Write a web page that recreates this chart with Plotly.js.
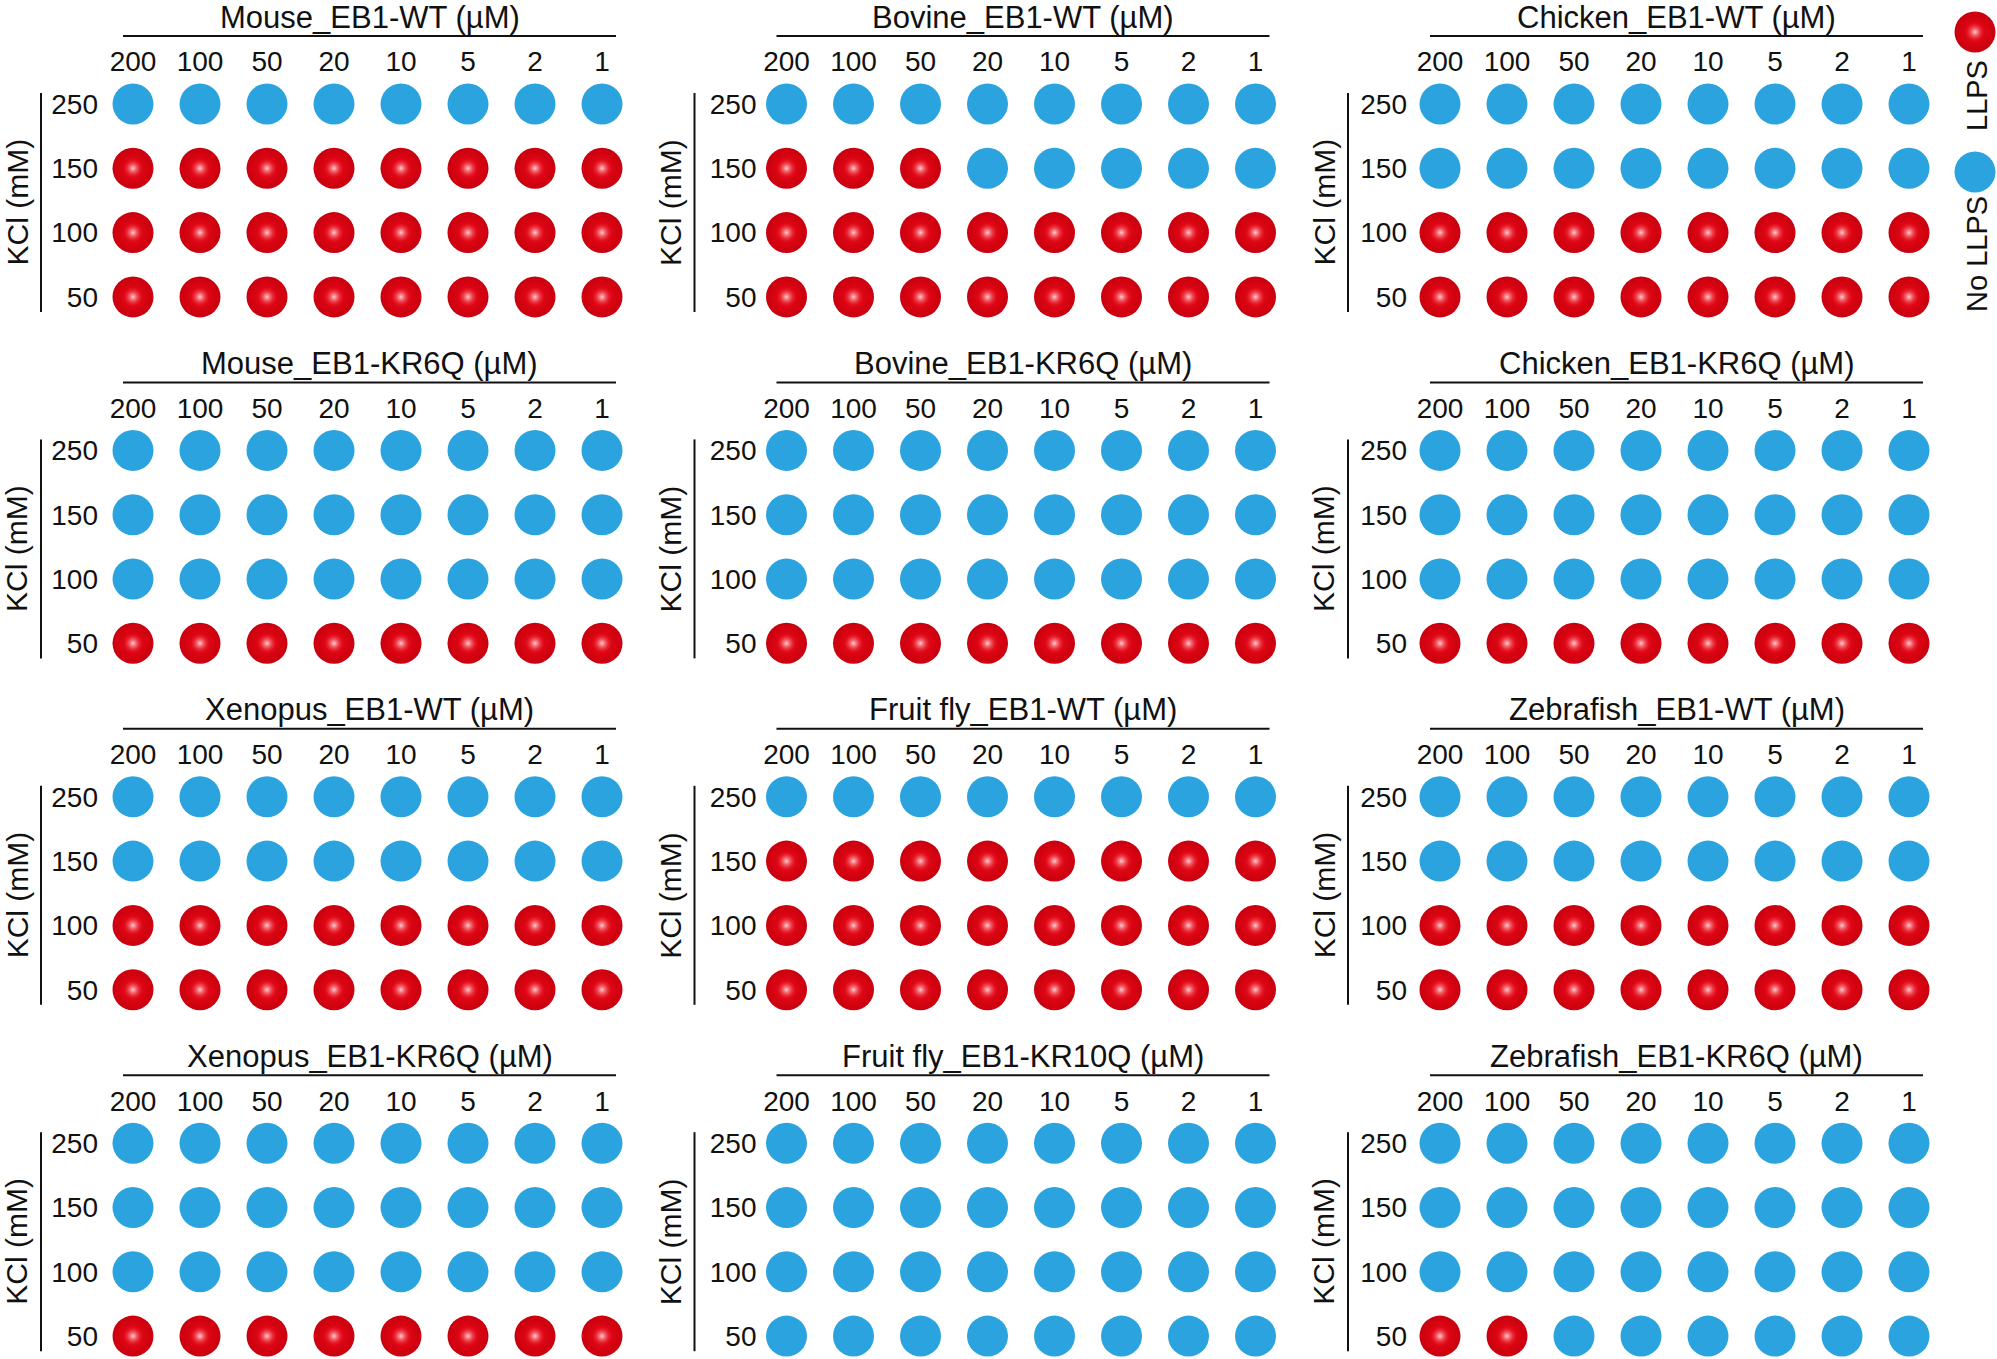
<!DOCTYPE html>
<html><head><meta charset="utf-8">
<script src="https://cdn.plot.ly/plotly-3.0.1.min.js"></script>
<style>html,body{margin:0;padding:0;background:#fff;overflow:hidden}</style>
</head><body><div id="chart" style="width:1997px;height:1359px"></div>
<script>
// ---------------- data ----------------
const concentrations = ['200', '100', '50', '20', '10', '5', '2', '1'];   // µM, left to right
const kclLevels = ['250', '150', '100', '50'];                           // mM, top to bottom
const kclAxisOrder = ['50', '100', '150', '250'];                        // bottom to top

const panelTitles = [
  'Mouse_EB1-WT (µM)', 'Bovine_EB1-WT (µM)', 'Chicken_EB1-WT (µM)',
  'Mouse_EB1-KR6Q (µM)', 'Bovine_EB1-KR6Q (µM)', 'Chicken_EB1-KR6Q (µM)',
  'Xenopus_EB1-WT (µM)', 'Fruit fly_EB1-WT (µM)', 'Zebrafish_EB1-WT (µM)',
  'Xenopus_EB1-KR6Q (µM)', 'Fruit fly_EB1-KR10Q (µM)', 'Zebrafish_EB1-KR6Q (µM)'
];

// 1 = LLPS, 0 = No LLPS ; rows follow kclLevels (250,150,100,50), columns follow concentrations
const mouseWT       = [[0,0,0,0,0,0,0,0],[1,1,1,1,1,1,1,1],[1,1,1,1,1,1,1,1],[1,1,1,1,1,1,1,1]];
const bovineWT      = [[0,0,0,0,0,0,0,0],[1,1,1,0,0,0,0,0],[1,1,1,1,1,1,1,1],[1,1,1,1,1,1,1,1]];
const chickenWT     = [[0,0,0,0,0,0,0,0],[0,0,0,0,0,0,0,0],[1,1,1,1,1,1,1,1],[1,1,1,1,1,1,1,1]];
const mouseKR6Q     = [[0,0,0,0,0,0,0,0],[0,0,0,0,0,0,0,0],[0,0,0,0,0,0,0,0],[1,1,1,1,1,1,1,1]];
const bovineKR6Q    = [[0,0,0,0,0,0,0,0],[0,0,0,0,0,0,0,0],[0,0,0,0,0,0,0,0],[1,1,1,1,1,1,1,1]];
const chickenKR6Q   = [[0,0,0,0,0,0,0,0],[0,0,0,0,0,0,0,0],[0,0,0,0,0,0,0,0],[1,1,1,1,1,1,1,1]];
const xenopusWT     = [[0,0,0,0,0,0,0,0],[0,0,0,0,0,0,0,0],[1,1,1,1,1,1,1,1],[1,1,1,1,1,1,1,1]];
const fruitflyWT    = [[0,0,0,0,0,0,0,0],[1,1,1,1,1,1,1,1],[1,1,1,1,1,1,1,1],[1,1,1,1,1,1,1,1]];
const zebrafishWT   = [[0,0,0,0,0,0,0,0],[0,0,0,0,0,0,0,0],[1,1,1,1,1,1,1,1],[1,1,1,1,1,1,1,1]];
const xenopusKR6Q   = [[0,0,0,0,0,0,0,0],[0,0,0,0,0,0,0,0],[0,0,0,0,0,0,0,0],[1,1,1,1,1,1,1,1]];
const fruitflyKR10Q = [[0,0,0,0,0,0,0,0],[0,0,0,0,0,0,0,0],[0,0,0,0,0,0,0,0],[0,0,0,0,0,0,0,0]];
const zebrafishKR6Q = [[0,0,0,0,0,0,0,0],[0,0,0,0,0,0,0,0],[0,0,0,0,0,0,0,0],[1,1,0,0,0,0,0,0]];

const panelData = [mouseWT, bovineWT, chickenWT, mouseKR6Q, bovineKR6Q, chickenKR6Q,
                   xenopusWT, fruitflyWT, zebrafishWT, xenopusKR6Q, fruitflyKR10Q, zebrafishKR6Q];

const yTitle = 'KCl (mM)';
const legendLabels = ['LLPS', 'No LLPS'];

// ---------------- styling / layout ----------------
const W = 1997, H = 1359;
const FONT = '"Liberation Sans", Arial, Helvetica, sans-serif';
const BLUE = '#2ba3df';
const RED_EDGE = '#c9000e';
const RED_CENTER = '#ee0a18';
const MSIZE = 41;

const colOffset = [0, 653.5, 1307];
const rowOffset = [0, 346.4, 692.8, 1039.2];
const plotLeftByCol = [101, 106, 103];
const P = { right: 625, top: 93, bottom: 312, cx0: 133, dx: 67, cyTop: 104, dy: 64.3,
            lineX0: 123, lineX1: 616, lineY: 36, titleY: 17, vLineX: 41, yTitleX: 17 };

const xp = px => px / W;
const yp = py => 1 - py / H;

const traces = [];
const layout = {
  width: W, height: H, margin: {l: 0, r: 0, t: 0, b: 0},
  paper_bgcolor: '#fff', plot_bgcolor: 'rgba(0,0,0,0)',
  showlegend: false, font: {family: FONT, color: '#111'},
  shapes: [], annotations: []
};

function markerTraces(ax, ay, xs, ys, red) {
  if (!xs.length) return;
  if (!red) {
    traces.push({type: 'scatter', mode: 'markers', x: xs, y: ys, xaxis: ax, yaxis: ay,
      cliponaxis: false, hoverinfo: 'skip',
      marker: {size: MSIZE, color: BLUE, line: {width: 0}}});
  } else {
    traces.push({type: 'scatter', mode: 'markers', x: xs, y: ys, xaxis: ax, yaxis: ay,
      cliponaxis: false, hoverinfo: 'skip',
      marker: {size: MSIZE, color: RED_EDGE, line: {width: 0},
               gradient: {type: 'radial', color: RED_CENTER}}});
    traces.push({type: 'scatter', mode: 'markers', x: xs, y: ys, xaxis: ax, yaxis: ay,
      cliponaxis: false, hoverinfo: 'skip',
      marker: {size: 21, color: 'rgba(236,10,24,0)', line: {width: 0},
               gradient: {type: 'radial', color: 'rgba(255,235,235,0.88)'}}});
  }
}

panelData.forEach((grid, p) => {
  const r = Math.floor(p / 3), c = p % 3;
  const ox = colOffset[c], oy = rowOffset[r];
  const n = p + 1;
  const ax = 'x' + n, ay = 'y' + n;
  const left = plotLeftByCol[c];

  const bx = [], by = [], rx = [], ry = [];
  grid.forEach((row, i) => row.forEach((v, j) => {
    if (v) { rx.push(concentrations[j]); ry.push(kclLevels[i]); }
    else   { bx.push(concentrations[j]); by.push(kclLevels[i]); }
  }));
  markerTraces(ax, ay, bx, by, false);
  markerTraces(ax, ay, rx, ry, true);

  const lastX = P.cx0 + 7 * P.dx;
  const bottomCy = P.cyTop + 3 * P.dy;
  layout['xaxis' + n] = {
    type: 'category', categoryarray: concentrations, categoryorder: 'array',
    domain: [xp(ox + left), xp(ox + P.right)], anchor: ay, side: 'top',
    range: [-(P.cx0 - left) / P.dx, 7 + (P.right - lastX) / P.dx],
    showgrid: false, zeroline: false, showline: false, ticks: '',
    ticklabelstandoff: 15,
    tickfont: {family: FONT, size: 28, color: '#111'}, fixedrange: true
  };
  layout['yaxis' + n] = {
    type: 'category', categoryarray: kclAxisOrder, categoryorder: 'array',
    domain: [yp(oy + P.bottom), yp(oy + P.top)], anchor: ax,
    range: [-(P.bottom - bottomCy) / P.dy, 3 + (P.cyTop - P.top) / P.dy],
    showgrid: false, zeroline: false, showline: false, ticks: '',
    ticklabelstandoff: 2,
    tickfont: {family: FONT, size: 28, color: '#111'}, fixedrange: true
  };

  // title rule and y rule
  layout.shapes.push({type: 'line', xref: 'paper', yref: 'paper',
    x0: xp(ox + P.lineX0), x1: xp(ox + P.lineX1), y0: yp(oy + P.lineY), y1: yp(oy + P.lineY),
    line: {color: '#111', width: 2}});
  layout.shapes.push({type: 'line', xref: 'paper', yref: 'paper',
    x0: xp(ox + P.vLineX), x1: xp(ox + P.vLineX), y0: yp(oy + P.top), y1: yp(oy + P.bottom),
    line: {color: '#111', width: 2}});

  layout.annotations.push({text: panelTitles[p], xref: 'paper', yref: 'paper',
    x: xp(ox + (P.lineX0 + P.lineX1) / 2), y: yp(oy + P.titleY),
    xanchor: 'center', yanchor: 'middle', showarrow: false,
    font: {family: FONT, size: 31, color: '#111'}});
  layout.annotations.push({text: yTitle, xref: 'paper', yref: 'paper', textangle: -90,
    x: xp(ox + P.yTitleX), y: yp(oy + (P.top + P.bottom) / 2),
    xanchor: 'center', yanchor: 'middle', showarrow: false,
    font: {family: FONT, size: 30, color: '#111'}});
});

// ---------------- custom legend ----------------
const ln = panelData.length + 1;
layout['xaxis' + ln] = {domain: [xp(1955), xp(1995)], range: [-1, 1], visible: false,
  anchor: 'y' + ln, fixedrange: true};
layout['yaxis' + ln] = {type: 'category', categoryarray: legendLabels.slice().reverse(),
  categoryorder: 'array', domain: [yp(172), yp(32)], range: [0, 1], visible: false,
  anchor: 'x' + ln, fixedrange: true};
markerTraces('x' + ln, 'y' + ln, [0], [legendLabels[0]], true);
markerTraces('x' + ln, 'y' + ln, [0], [legendLabels[1]], false);
layout.annotations.push({text: legendLabels[0], xref: 'paper', yref: 'paper', textangle: -90,
  x: xp(1977), y: yp(96), xanchor: 'center', yanchor: 'middle', showarrow: false,
  font: {family: FONT, size: 29, color: '#111'}});
layout.annotations.push({text: legendLabels[1], xref: 'paper', yref: 'paper', textangle: -90,
  x: xp(1977), y: yp(254), xanchor: 'center', yanchor: 'middle', showarrow: false,
  font: {family: FONT, size: 29, color: '#111'}});

Plotly.newPlot('chart', traces, layout, {displayModeBar: false, staticPlot: true});
</script>
</body></html>
